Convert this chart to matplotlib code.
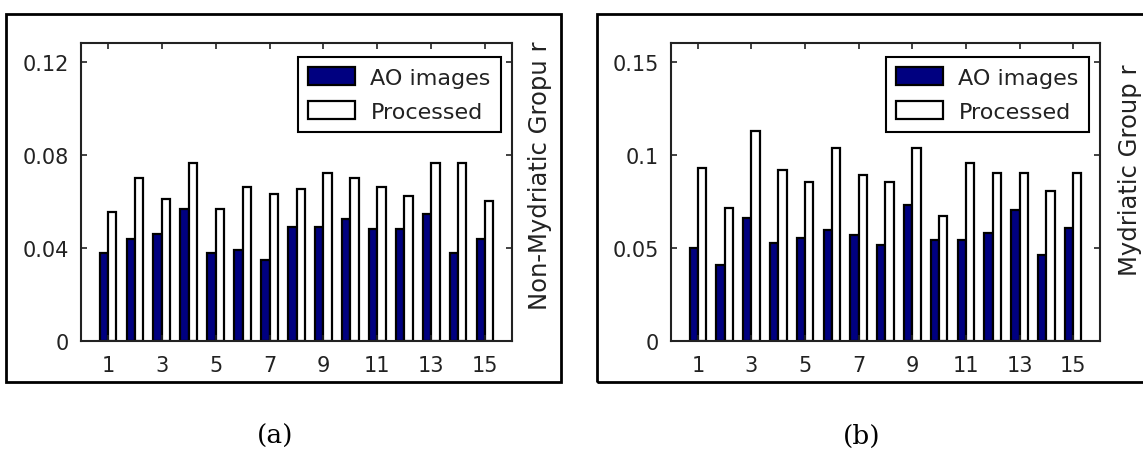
import matplotlib.pyplot as plt
import numpy as np
from matplotlib.patches import Rectangle

# per-image values for the two groups
images = np.arange(1, 16)
non_myd_ao = [0.038, 0.0436, 0.0458, 0.0567, 0.038, 0.0391, 0.0348, 0.049,
              0.049, 0.0524, 0.0481, 0.0481, 0.0545, 0.038, 0.0437]
non_myd_proc = [0.0555, 0.0698, 0.0611, 0.0765, 0.0567, 0.0663, 0.0632, 0.0655,
                0.0722, 0.0698, 0.0663, 0.0622, 0.0765, 0.0765, 0.060]
myd_ao = [0.0502, 0.0407, 0.0662, 0.0528, 0.0555, 0.0594, 0.0567, 0.0514,
          0.0728, 0.0541, 0.0541, 0.058, 0.0703, 0.046, 0.0607]
myd_proc = [0.093, 0.0716, 0.113, 0.0917, 0.0853, 0.1037, 0.0889, 0.0853,
            0.1037, 0.0671, 0.0957, 0.0903, 0.0903, 0.0808, 0.0903]

W, H = 1143, 452
fig = plt.figure(figsize=(W / 100, H / 100), dpi=100)
fig.patch.set_facecolor('white')

def px_axes(x0, y0, x1, y1):
    return fig.add_axes([x0 / W, 1 - y1 / H, (x1 - x0) / W, (y1 - y0) / H])

def draw_panel(ax, ao, proc, ylim, yticks, ylabels):
    bw = 0.31
    ax.bar(images - bw / 2, ao, width=bw, color='#000080', edgecolor='black',
           linewidth=1.6, label='AO images')
    ax.bar(images + bw / 2, proc, width=bw, color='white', edgecolor='black',
           linewidth=1.6, label='Processed')
    ax.set_xlim(0, 16)
    ax.set_ylim(*ylim)
    ax.set_xticks(np.arange(1, 16, 2))
    ax.set_yticks(yticks)
    ax.set_yticklabels(ylabels)
    ax.tick_params(direction='in', length=4, width=1.2, top=True, right=True,
                   labelsize=15, colors='#222222')
    ax.tick_params(axis='y', pad=9)
    ax.tick_params(axis='x', pad=10)
    for s in ax.spines.values():
        s.set_linewidth(1.5)
        s.set_color('#222222')
    leg = ax.legend(loc='upper right', bbox_to_anchor=(0.974, 0.954),
                    borderaxespad=0, fancybox=False, framealpha=1,
                    edgecolor='black', fontsize=16, handlelength=2.1,
                    handleheight=0.9, handletextpad=0.7, labelspacing=0.6,
                    borderpad=0.45)
    leg.get_frame().set_linewidth(1.5)
    for t in leg.get_texts():
        t.set_color('#222222')

ax1 = px_axes(81, 44, 512, 342)
draw_panel(ax1, non_myd_ao, non_myd_proc, (0, 0.128),
           [0, 0.04, 0.08, 0.12], ['0', '0.04', '0.08', '0.12'])
ax2 = px_axes(671, 44, 1100, 342)
draw_panel(ax2, myd_ao, myd_proc, (0, 0.16),
           [0, 0.05, 0.1, 0.15], ['0', '0.05', '0.1', '0.15'])

# side labels
fig.text(540 / W, 1 - 176 / H, 'Non-Mydriatic Gropu r', rotation=90,
         ha='center', va='center', fontsize=17.5, color='#222222')
fig.text(1130 / W, 1 - 170 / H, 'Mydriatic Group r', rotation=90,
         ha='center', va='center', fontsize=17.5, color='#222222')

# frames around each panel
for x0, x1 in [(6, 561), (597, 1160)]:
    fig.patches.append(Rectangle((x0 / W, 1 - 383 / H), (x1 - x0) / W,
                                 (383 - 15) / H, transform=fig.transFigure,
                                 fill=False, edgecolor='black', linewidth=2))

fig.text(275 / W, 1 - 436 / H, '(a)', ha='center', va='center',
         fontsize=19, family='DejaVu Serif')
fig.text(862 / W, 1 - 436 / H, '(b)', ha='center', va='center',
         fontsize=19, family='DejaVu Serif')

fig.savefig('out.png', dpi=100)
